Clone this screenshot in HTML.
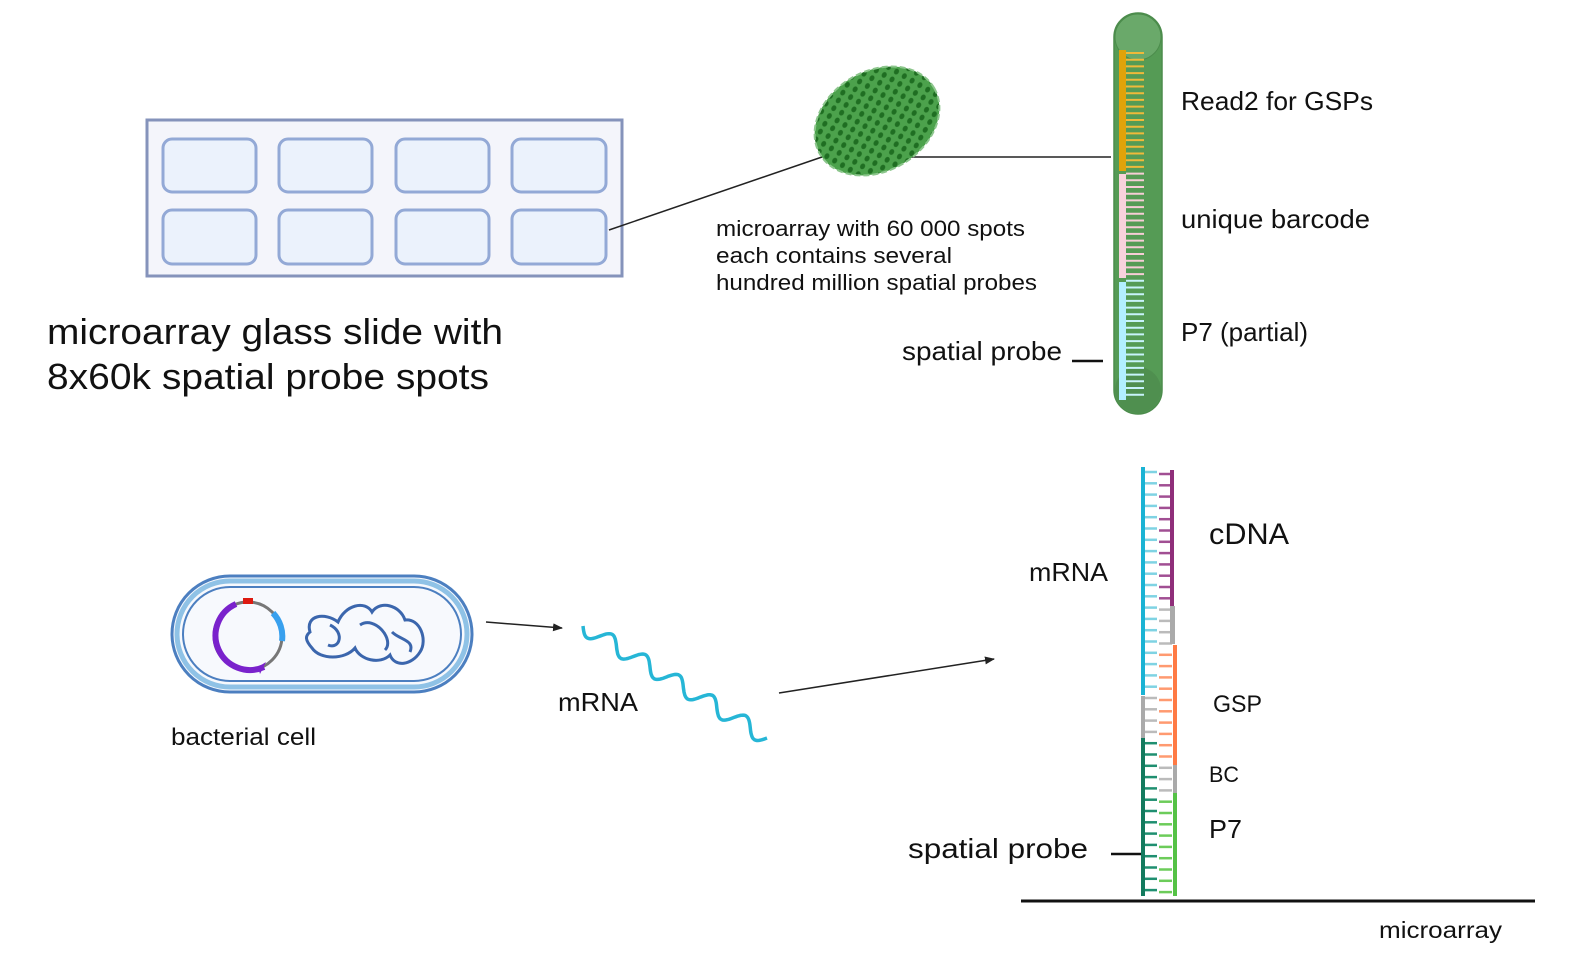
<!DOCTYPE html>
<html><head><meta charset="utf-8"><style>
html,body{margin:0;padding:0;background:#fff}
svg{display:block}
text{font-family:"Liberation Sans",sans-serif;fill:#111}
</style></head><body>
<svg id="s" width="1581" height="973" viewBox="0 0 1581 973" xmlns="http://www.w3.org/2000/svg">
<defs>
<pattern id="dots" width="9" height="9" patternUnits="userSpaceOnUse" patternTransform="rotate(-30)">
<rect width="9" height="9" fill="#4ca24c"/>
<ellipse cx="4.5" cy="4.5" rx="3" ry="2.4" fill="#1f6e22"/>
</pattern>
<marker id="ar" markerWidth="10" markerHeight="8" refX="9" refY="4" orient="auto" markerUnits="userSpaceOnUse"><path d="M0,0 L10,4 L0,8 z" fill="#222"/></marker>
</defs>
<rect x="147" y="120" width="475" height="156" fill="#f4f5fb" stroke="#8593bb" stroke-width="3"/>
<g fill="#ebf2fc" stroke="#93a9d6" stroke-width="3">
<rect x="163" y="139" width="93" height="53" rx="9"/><rect x="279" y="139" width="93" height="53" rx="9"/>
<rect x="396" y="139" width="93" height="53" rx="9"/><rect x="512" y="139" width="94" height="53" rx="9"/>
<rect x="163" y="210" width="93" height="54" rx="9"/><rect x="279" y="210" width="93" height="54" rx="9"/>
<rect x="396" y="210" width="93" height="54" rx="9"/><rect x="512" y="210" width="94" height="54" rx="9"/>
</g>
<line x1="609" y1="230" x2="822" y2="157" stroke="#222" stroke-width="1.5"/>
<line x1="905" y1="157" x2="1111" y2="157" stroke="#222" stroke-width="1.5"/>
<ellipse cx="877" cy="121" rx="66" ry="50" transform="rotate(-30 877 121)" fill="url(#dots)" stroke="#8cc68c" stroke-width="2" stroke-dasharray="6 3"/>
<text x="47" y="344" font-size="36" textLength="456" lengthAdjust="spacingAndGlyphs">microarray glass slide with</text>
<text x="47" y="389" font-size="36" textLength="442" lengthAdjust="spacingAndGlyphs">8x60k spatial probe spots</text>
<text x="716" y="236" font-size="22" textLength="309" lengthAdjust="spacingAndGlyphs">microarray with 60 000 spots</text>
<text x="716" y="263" font-size="22" textLength="236" lengthAdjust="spacingAndGlyphs">each contains  several</text>
<text x="716" y="290" font-size="22" textLength="321" lengthAdjust="spacingAndGlyphs">hundred million spatial probes</text>
<rect x="1114" y="13" width="48" height="401" rx="24" fill="#559b55" stroke="#4c8c4c" stroke-width="1.5"/>
<circle cx="1138" cy="37" r="23" fill="#6aa96a" stroke="#4c8c4c"/>
<circle cx="1138" cy="390" r="23" fill="#4f8f4f"/>
<rect x="1119" y="50" width="7" height="121" fill="#e0a30a"/>
<rect x="1119" y="174" width="7" height="104" fill="#f9d2dc"/>
<rect x="1119" y="282" width="7" height="118" fill="#b2efff"/>
<g id="r1"></g>
<line x1="1072" y1="361" x2="1103" y2="361" stroke="#111" stroke-width="2.5"/>
<text x="1181" y="110" font-size="26" textLength="192" lengthAdjust="spacingAndGlyphs">Read2 for GSPs</text>
<text x="1181" y="228" font-size="26" textLength="189" lengthAdjust="spacingAndGlyphs">unique barcode</text>
<text x="1181" y="341" font-size="26" textLength="127" lengthAdjust="spacingAndGlyphs">P7 (partial)</text>
<text x="902" y="360" font-size="26" textLength="160" lengthAdjust="spacingAndGlyphs">spatial probe</text>
<rect x="172" y="576" width="300" height="116" rx="58" fill="#f7f9fd" stroke="#4c7fc0" stroke-width="3"/>
<rect x="177" y="581" width="290" height="106" rx="53" fill="none" stroke="#8fc2e6" stroke-width="5"/>
<rect x="183" y="587" width="278" height="94" rx="47" fill="#f7f9fd" stroke="#4c7fc0" stroke-width="2"/>
<circle cx="248" cy="636" r="34" fill="none" stroke="#777" stroke-width="3"/>
<path d="M236,604 A34,34 0 1 0 264,667" fill="none" stroke="#7a22cc" stroke-width="6"/>
<path d="M258,667 L266,662 L260,674 z" fill="#7a22cc"/>
<path d="M273,613 A34,34 0 0 1 282,641" fill="none" stroke="#38a0ee" stroke-width="6"/>
<rect x="243" y="598" width="10" height="6" fill="#dd1a10"/>
<g fill="none" stroke="#3b66ad" stroke-width="3">
<path d="M310,632 C305,615 325,612 338,622 C345,605 365,600 372,612 C380,600 400,605 405,620 C420,618 428,640 420,652 C412,665 395,668 390,655 C380,665 360,660 355,648 C345,660 320,660 312,648 C305,640 305,636 310,632 Z"/>
<path d="M330,625 C345,632 340,650 328,645 M360,625 C375,615 395,640 385,650 M392,632 C400,640 415,640 410,652"/>
</g>
<text x="171" y="745" font-size="24" textLength="145" lengthAdjust="spacingAndGlyphs">bacterial cell</text>
<line x1="486" y1="622" x2="562" y2="628" stroke="#222" stroke-width="1.5" marker-end="url(#ar)"/>
<path id="wave" fill="none" stroke="#26b6d6" stroke-width="3.5"/>
<text x="558" y="711" font-size="26" textLength="80" lengthAdjust="spacingAndGlyphs">mRNA</text>
<line x1="779" y1="693" x2="994" y2="659" stroke="#222" stroke-width="1.5" marker-end="url(#ar)"/>
<g id="r2"></g>
<rect x="1141" y="467" width="4" height="228" fill="#1ab3d4"/>
<rect x="1141" y="696" width="4" height="42" fill="#aaa"/>
<rect x="1141" y="738" width="4" height="158" fill="#137a5e"/>
<rect x="1170" y="470" width="4" height="137" fill="#8f2e7a"/>
<rect x="1170" y="606" width="5" height="38" fill="#aaa"/>
<rect x="1173" y="645" width="4" height="120" fill="#ff7a44"/>
<rect x="1173" y="765" width="4" height="28" fill="#aaa"/>
<rect x="1173" y="793" width="4" height="103" fill="#55c246"/>
<line x1="1111" y1="854" x2="1141" y2="854" stroke="#111" stroke-width="2.5"/>
<line x1="1021" y1="901" x2="1535" y2="901" stroke="#111" stroke-width="3"/>
<text x="1209" y="544" font-size="30" textLength="80" lengthAdjust="spacingAndGlyphs">cDNA</text>
<text x="1029" y="581" font-size="26" textLength="79" lengthAdjust="spacingAndGlyphs">mRNA</text>
<text x="1213" y="712" font-size="24" textLength="49" lengthAdjust="spacingAndGlyphs">GSP</text>
<text x="1209" y="782" font-size="22" textLength="30" lengthAdjust="spacingAndGlyphs">BC</text>
<text x="1209" y="838" font-size="26" textLength="33" lengthAdjust="spacingAndGlyphs">P7</text>
<text x="908" y="858" font-size="28" textLength="180" lengthAdjust="spacingAndGlyphs">spatial probe</text>
<text x="1379" y="938" font-size="23" textLength="123" lengthAdjust="spacingAndGlyphs">microarray</text>
</svg>
<script>
var NS="http://www.w3.org/2000/svg";
function ln(g,x1,y1,x2,y2,c,w){var l=document.createElementNS(NS,"line");l.setAttribute("x1",x1);l.setAttribute("y1",y1);l.setAttribute("x2",x2);l.setAttribute("y2",y2);l.setAttribute("stroke",c);l.setAttribute("stroke-width",w);g.appendChild(l);}
var r1=document.getElementById("r1");
for(var y=53;y<398;y+=6.7){var c=y<171?"#f0b93a":(y<278?"#f6cdd6":"#c8f3fb");ln(r1,1126,y,1144,y,c,2);}
var r2=document.getElementById("r2");
for(var y=472;y<895;y+=11.3){var c=y<695?"#7fd3e3":(y<738?"#bbb":"#1f8f70");ln(r2,1145,y,1157,y,c,2.5);}
for(var y=474;y<895;y+=11.3){var c=y<606?"#a14f93":(y<645?"#bbb":(y<765?"#ff9a70":(y<793?"#bbb":"#6ccc5a")));ln(r2,1159,y,1172,y,c,2.5);}
var x0=583,y0=626,x1=767,y1=738,dx=x1-x0,dy=y1-y0,L=Math.sqrt(dx*dx+dy*dy),ux=dx/L,uy=dy/L,nx=-uy,ny=ux,d="";
for(var i=0;i<=200;i++){var t=i/200,s=t*L,a=8*Math.sin(t*5.5*2*Math.PI);var x=x0+ux*s+nx*a,y=y0+uy*s+ny*a;d+=(i?"L":"M")+x.toFixed(1)+","+y.toFixed(1);}
document.getElementById("wave").setAttribute("d",d);
</script>
</body></html>
